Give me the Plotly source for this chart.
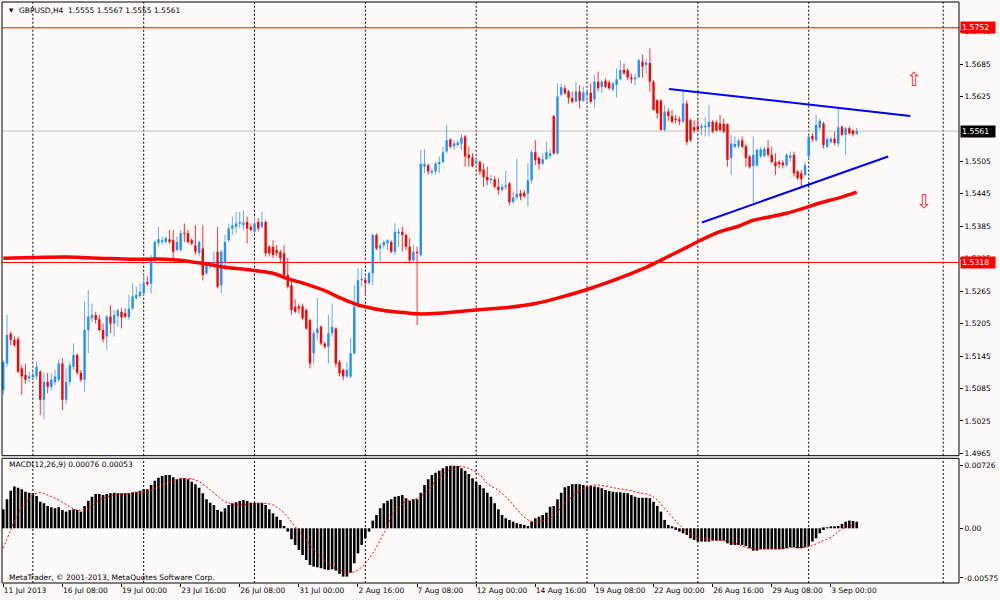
import plotly.graph_objects as go

# ---------------- data (GBPUSD H4) ----------------
OPEN = [1.5082, 1.5131, 1.5186, 1.5175, 1.5176, 1.5122, 1.5110, 1.5104, 1.5106, 1.5107,
        1.5116, 1.5064, 1.5097, 1.5088, 1.5097, 1.5101, 1.5131, 1.5064, 1.5097, 1.5125,
        1.5147, 1.5114, 1.5101, 1.5193, 1.5215, 1.5221, 1.5213, 1.5193, 1.5181, 1.5218,
        1.5205, 1.5219, 1.5227, 1.5224, 1.5216, 1.5233, 1.5252, 1.5256, 1.5261, 1.5282,
        1.5279, 1.5322, 1.5354, 1.5356, 1.5356, 1.5361, 1.5359, 1.5341, 1.5341, 1.5373,
        1.5372, 1.5359, 1.5350, 1.5335, 1.5344, 1.5298, 1.5310, 1.5313, 1.5338, 1.5276,
        1.5319, 1.5359, 1.5381, 1.5384, 1.5390, 1.5387, 1.5393, 1.5384, 1.5375, 1.5393,
        1.5384, 1.5393, 1.5347, 1.5347, 1.5341, 1.5338, 1.5335, 1.5295, 1.5276, 1.5236,
        1.5237, 1.5237, 1.5230, 1.5211, 1.5150, 1.5187, 1.5199, 1.5168, 1.5162, 1.5187,
        1.5196, 1.5134, 1.5119, 1.5107, 1.5107, 1.5150, 1.5236, 1.5285, 1.5286, 1.5280,
        1.5298, 1.5369, 1.5344, 1.5350, 1.5353, 1.5356, 1.5338, 1.5372, 1.5375, 1.5369,
        1.5347, 1.5322, 1.5338, 1.5332, 1.5495, 1.5498, 1.5484, 1.5486, 1.5500, 1.5504,
        1.5523, 1.5546, 1.5533, 1.5535, 1.5538, 1.5551, 1.5517, 1.5512, 1.5501, 1.5504,
        1.5490, 1.5476, 1.5470, 1.5472, 1.5458, 1.5452, 1.5458, 1.5464, 1.5430, 1.5438,
        1.5446, 1.5447, 1.5445, 1.5470, 1.5522, 1.5511, 1.5501, 1.5509, 1.5515, 1.5589,
        1.5520, 1.5628, 1.5640, 1.5634, 1.5622, 1.5615, 1.5634, 1.5617, 1.5629, 1.5632,
        1.5620, 1.5652, 1.5643, 1.5654, 1.5651, 1.5638, 1.5646, 1.5657, 1.5674, 1.5673,
        1.5660, 1.5657, 1.5661, 1.5689, 1.5683, 1.5687, 1.5652, 1.5618, 1.5617, 1.5563,
        1.5597, 1.5589, 1.5584, 1.5583, 1.5578, 1.5612, 1.5581, 1.5568, 1.5570, 1.5567,
        1.5568, 1.5568, 1.5578, 1.5577, 1.5575, 1.5574, 1.5574, 1.5511, 1.5532, 1.5533,
        1.5544, 1.5533, 1.5514, 1.5496, 1.5498, 1.5514, 1.5515, 1.5529, 1.5517, 1.5504,
        1.5504, 1.5503, 1.5498, 1.5511, 1.5517, 1.5486, 1.5483, 1.5480, 1.5514, 1.5552,
        1.5544, 1.5567, 1.5575, 1.5532, 1.5541, 1.5547, 1.5538, 1.5569, 1.5554, 1.5566,
        1.5562, 1.5555]
HIGH = [1.5137, 1.5221, 1.5190, 1.5181, 1.5181, 1.5128, 1.5131, 1.5116, 1.5116, 1.5134,
        1.5119, 1.5114, 1.5114, 1.5113, 1.5119, 1.5138, 1.5141, 1.5122, 1.5134, 1.5168,
        1.5150, 1.5119, 1.5245, 1.5267, 1.5242, 1.5227, 1.5221, 1.5205, 1.5221, 1.5239,
        1.5230, 1.5233, 1.5233, 1.5233, 1.5258, 1.5279, 1.5273, 1.5279, 1.5295, 1.5292,
        1.5332, 1.5359, 1.5384, 1.5366, 1.5366, 1.5378, 1.5378, 1.5366, 1.5378, 1.5390,
        1.5378, 1.5363, 1.5387, 1.5359, 1.5387, 1.5319, 1.5319, 1.5338, 1.5384, 1.5341,
        1.5369, 1.5390, 1.5403, 1.5412, 1.5412, 1.5415, 1.5403, 1.5390, 1.5400, 1.5400,
        1.5412, 1.5396, 1.5350, 1.5359, 1.5350, 1.5341, 1.5350, 1.5326, 1.5285, 1.5250,
        1.5242, 1.5242, 1.5233, 1.5214, 1.5193, 1.5252, 1.5202, 1.5171, 1.5221, 1.5242,
        1.5198, 1.5138, 1.5122, 1.5134, 1.5178, 1.5276, 1.5307, 1.5307, 1.5291, 1.5301,
        1.5372, 1.5372, 1.5353, 1.5359, 1.5361, 1.5359, 1.5390, 1.5381, 1.5384, 1.5372,
        1.5363, 1.5350, 1.5347, 1.5526, 1.5527, 1.5501, 1.5492, 1.5504, 1.5514, 1.5532,
        1.5572, 1.5547, 1.5544, 1.5544, 1.5555, 1.5554, 1.5532, 1.5520, 1.5510, 1.5507,
        1.5501, 1.5495, 1.5480, 1.5477, 1.5474, 1.5463, 1.5487, 1.5467, 1.5449, 1.5510,
        1.5452, 1.5452, 1.5501, 1.5526, 1.5544, 1.5514, 1.5520, 1.5541, 1.5527, 1.5591,
        1.5649, 1.5649, 1.5646, 1.5637, 1.5634, 1.5652, 1.5646, 1.5643, 1.5637, 1.5649,
        1.5665, 1.5671, 1.5655, 1.5658, 1.5655, 1.5652, 1.5677, 1.5692, 1.5686, 1.5677,
        1.5667, 1.5667, 1.5695, 1.5702, 1.5695, 1.5714, 1.5655, 1.5620, 1.5620, 1.5609,
        1.5603, 1.5600, 1.5591, 1.5588, 1.5637, 1.5618, 1.5584, 1.5581, 1.5584, 1.5575,
        1.5587, 1.5609, 1.5581, 1.5581, 1.5591, 1.5584, 1.5575, 1.5554, 1.5551, 1.5547,
        1.5551, 1.5538, 1.5517, 1.5551, 1.5529, 1.5532, 1.5532, 1.5544, 1.5532, 1.5520,
        1.5507, 1.5507, 1.5520, 1.5523, 1.5523, 1.5489, 1.5489, 1.5504, 1.5554, 1.5557,
        1.5591, 1.5584, 1.5578, 1.5551, 1.5551, 1.5560, 1.5603, 1.5572, 1.5569, 1.5569,
        1.5564, 1.5567]
LOW = [1.5073, 1.5125, 1.5165, 1.5162, 1.5113, 1.5073, 1.5094, 1.5097, 1.5101, 1.5101,
       1.5036, 1.5028, 1.5076, 1.5082, 1.5091, 1.5097, 1.5045, 1.5057, 1.5091, 1.5119,
       1.5110, 1.5097, 1.5079, 1.5150, 1.5208, 1.5205, 1.5190, 1.5170, 1.5156, 1.5187,
       1.5181, 1.5199, 1.5196, 1.5215, 1.5212, 1.5230, 1.5249, 1.5252, 1.5258, 1.5274,
       1.5261, 1.5316, 1.5347, 1.5350, 1.5353, 1.5353, 1.5322, 1.5338, 1.5338, 1.5356,
       1.5353, 1.5350, 1.5332, 1.5329, 1.5285, 1.5295, 1.5307, 1.5310, 1.5270, 1.5261,
       1.5304, 1.5356, 1.5369, 1.5372, 1.5381, 1.5378, 1.5353, 1.5375, 1.5372, 1.5375,
       1.5381, 1.5329, 1.5329, 1.5326, 1.5329, 1.5316, 1.5292, 1.5270, 1.5221, 1.5224,
       1.5224, 1.5211, 1.5193, 1.5122, 1.5131, 1.5174, 1.5165, 1.5159, 1.5131, 1.5181,
       1.5125, 1.5107, 1.5100, 1.5104, 1.5104, 1.5147, 1.5233, 1.5273, 1.5258, 1.5276,
       1.5276, 1.5341, 1.5316, 1.5344, 1.5341, 1.5335, 1.5332, 1.5347, 1.5338, 1.5341,
       1.5316, 1.5316, 1.5202, 1.5329, 1.5483, 1.5480, 1.5480, 1.5480, 1.5483, 1.5501,
       1.5520, 1.5529, 1.5526, 1.5532, 1.5526, 1.5495, 1.5495, 1.5494, 1.5495, 1.5480,
       1.5458, 1.5461, 1.5463, 1.5455, 1.5443, 1.5449, 1.5452, 1.5424, 1.5426, 1.5433,
       1.5433, 1.5437, 1.5421, 1.5464, 1.5498, 1.5490, 1.5498, 1.5507, 1.5510, 1.5517,
       1.5517, 1.5625, 1.5628, 1.5612, 1.5612, 1.5615, 1.5603, 1.5615, 1.5612, 1.5612,
       1.5603, 1.5634, 1.5631, 1.5640, 1.5637, 1.5634, 1.5623, 1.5655, 1.5665, 1.5655,
       1.5649, 1.5646, 1.5658, 1.5660, 1.5668, 1.5634, 1.5599, 1.5584, 1.5562, 1.5560,
       1.5580, 1.5575, 1.5575, 1.5572, 1.5575, 1.5535, 1.5541, 1.5557, 1.5560, 1.5553,
       1.5551, 1.5551, 1.5557, 1.5560, 1.5560, 1.5557, 1.5495, 1.5480, 1.5529, 1.5529,
       1.5529, 1.5495, 1.5492, 1.5428, 1.5495, 1.5511, 1.5512, 1.5513, 1.5501, 1.5480,
       1.5492, 1.5492, 1.5495, 1.5504, 1.5477, 1.5470, 1.5458, 1.5477, 1.5510, 1.5541,
       1.5541, 1.5563, 1.5529, 1.5529, 1.5538, 1.5535, 1.5532, 1.5551, 1.5517, 1.5554,
       1.5551, 1.5555]
CLOSE = [1.5134, 1.5184, 1.5175, 1.5165, 1.5116, 1.5107, 1.5101, 1.5107, 1.5110, 1.5125,
         1.5064, 1.5097, 1.5088, 1.5101, 1.5107, 1.5131, 1.5064, 1.5097, 1.5128, 1.5147,
         1.5114, 1.5101, 1.5193, 1.5218, 1.5221, 1.5212, 1.5193, 1.5176, 1.5218, 1.5205,
         1.5221, 1.5229, 1.5216, 1.5218, 1.5233, 1.5255, 1.5258, 1.5264, 1.5279, 1.5278,
         1.5322, 1.5356, 1.5361, 1.5359, 1.5363, 1.5356, 1.5338, 1.5356, 1.5372, 1.5371,
         1.5356, 1.5353, 1.5338, 1.5356, 1.5295, 1.5313, 1.5316, 1.5319, 1.5273, 1.5338,
         1.5356, 1.5381, 1.5387, 1.5390, 1.5393, 1.5392, 1.5381, 1.5378, 1.5390, 1.5381,
         1.5393, 1.5335, 1.5335, 1.5332, 1.5335, 1.5326, 1.5295, 1.5273, 1.5230, 1.5227,
         1.5233, 1.5215, 1.5196, 1.5131, 1.5187, 1.5196, 1.5168, 1.5162, 1.5187, 1.5199,
         1.5131, 1.5113, 1.5107, 1.5119, 1.5150, 1.5236, 1.5285, 1.5288, 1.5280, 1.5298,
         1.5369, 1.5344, 1.5350, 1.5356, 1.5359, 1.5338, 1.5375, 1.5375, 1.5369, 1.5347,
         1.5322, 1.5338, 1.5335, 1.5500, 1.5500, 1.5486, 1.5487, 1.5501, 1.5504, 1.5522,
         1.5544, 1.5532, 1.5538, 1.5540, 1.5549, 1.5514, 1.5511, 1.5496, 1.5506, 1.5486,
         1.5476, 1.5470, 1.5473, 1.5458, 1.5452, 1.5458, 1.5461, 1.5430, 1.5438, 1.5445,
         1.5440, 1.5441, 1.5470, 1.5522, 1.5507, 1.5500, 1.5509, 1.5522, 1.5520, 1.5520,
         1.5625, 1.5642, 1.5631, 1.5622, 1.5615, 1.5634, 1.5617, 1.5633, 1.5633, 1.5615,
         1.5652, 1.5640, 1.5652, 1.5643, 1.5640, 1.5649, 1.5657, 1.5674, 1.5668, 1.5660,
         1.5657, 1.5660, 1.5692, 1.5680, 1.5688, 1.5652, 1.5600, 1.5594, 1.5563, 1.5597,
         1.5589, 1.5578, 1.5581, 1.5579, 1.5612, 1.5541, 1.5544, 1.5562, 1.5564, 1.5571,
         1.5571, 1.5578, 1.5560, 1.5562, 1.5563, 1.5560, 1.5508, 1.5538, 1.5537, 1.5543,
         1.5532, 1.5511, 1.5495, 1.5517, 1.5526, 1.5527, 1.5528, 1.5517, 1.5504, 1.5496,
         1.5500, 1.5498, 1.5517, 1.5516, 1.5483, 1.5474, 1.5472, 1.5498, 1.5551, 1.5546,
         1.5572, 1.5580, 1.5535, 1.5546, 1.5547, 1.5539, 1.5568, 1.5554, 1.5566, 1.5557,
         1.5555, 1.5561]

MA_BARS = [0, 8, 17, 26, 35, 44, 48, 51, 55, 60, 67, 73, 77, 82, 87, 91, 95, 98, 103, 109,
           112, 118, 128, 137, 144, 150, 158, 164, 169, 174, 180, 185, 189, 194, 199, 203,
           208, 212, 217, 221, 226, 231]
MA_VALS = [1.5326, 1.5327, 1.5328, 1.5326, 1.5324, 1.5324, 1.5322, 1.5319, 1.5315, 1.5309,
           1.5304, 1.5298, 1.5288, 1.5278, 1.5266, 1.5253, 1.5242, 1.5236, 1.5229, 1.5225,
           1.5223, 1.5224, 1.5230, 1.5235, 1.5242, 1.5252, 1.5268, 1.5282, 1.5295, 1.5309,
           1.5329, 1.5346, 1.5360, 1.5375, 1.5385, 1.5396, 1.5403, 1.5409, 1.5419, 1.5428,
           1.5437, 1.5448]

MACD_MAIN = [0.00220, 0.00336, 0.00436, 0.00483, 0.00471, 0.00452, 0.00425, 0.00413, 0.00405, 0.00374,
             0.00309, 0.00290, 0.00259, 0.00243, 0.00232, 0.00243, 0.00212, 0.00193, 0.00212, 0.00220,
             0.00212, 0.00193, 0.00259, 0.00320, 0.00367, 0.00398, 0.00398, 0.00386, 0.00398, 0.00405,
             0.00413, 0.00405, 0.00405, 0.00405, 0.00405, 0.00417, 0.00425, 0.00436, 0.00452, 0.00452,
             0.00502, 0.00552, 0.00587, 0.00606, 0.00618, 0.00618, 0.00591, 0.00567, 0.00579, 0.00579,
             0.00567, 0.00540, 0.00510, 0.00471, 0.00405, 0.00336, 0.00297, 0.00270, 0.00212, 0.00193,
             0.00232, 0.00270, 0.00290, 0.00301, 0.00317, 0.00328, 0.00317, 0.00297, 0.00297, 0.00297,
             0.00297, 0.00270, 0.00220, 0.00174, 0.00135, 0.00097, 0.00027, -0.00039, -0.00127, -0.00193,
             -0.00251, -0.00309, -0.00367, -0.00425, -0.00444, -0.00452, -0.00463, -0.00475, -0.00483, -0.00475,
             -0.00490, -0.00529, -0.00560, -0.00560, -0.00513, -0.00405, -0.00290, -0.00193, -0.00116, -0.00039,
             0.00089, 0.00154, 0.00232, 0.00290, 0.00320, 0.00336, 0.00367, 0.00374, 0.00386, 0.00347,
             0.00320, 0.00336, 0.00336, 0.00413, 0.00502, 0.00567, 0.00618, 0.00645, 0.00668, 0.00695,
             0.00720, 0.00726, 0.00726, 0.00722, 0.00695, 0.00668, 0.00629, 0.00579, 0.00540, 0.00502,
             0.00463, 0.00413, 0.00367, 0.00290, 0.00220, 0.00154, 0.00116, 0.00097, 0.00077, 0.00058,
             0.00050, 0.00039, 0.00027, 0.00077, 0.00116, 0.00135, 0.00154, 0.00181, 0.00251, 0.00259,
             0.00336, 0.00413, 0.00475, 0.00490, 0.00510, 0.00513, 0.00510, 0.00502, 0.00483, 0.00490,
             0.00483, 0.00475, 0.00463, 0.00444, 0.00432, 0.00425, 0.00417, 0.00417, 0.00413, 0.00405,
             0.00386, 0.00367, 0.00355, 0.00355, 0.00355, 0.00347, 0.00309, 0.00259, 0.00193, 0.00097,
             0.00039, 0.00012, -0.00019, -0.00039, -0.00058, -0.00077, -0.00116, -0.00135, -0.00154, -0.00154,
             -0.00154, -0.00154, -0.00143, -0.00143, -0.00143, -0.00143, -0.00174, -0.00193, -0.00193, -0.00193,
             -0.00193, -0.00205, -0.00232, -0.00259, -0.00259, -0.00243, -0.00243, -0.00243, -0.00243, -0.00243,
             -0.00243, -0.00243, -0.00232, -0.00220, -0.00220, -0.00232, -0.00232, -0.00220, -0.00205, -0.00154,
             -0.00116, -0.00058, -0.00019, 0.00004, 0.00012, 0.00019, 0.00027, 0.00050, 0.00077, 0.00089,
             0.00085, 0.00076]

SIGNAL_BARS = [0, 2, 4, 6, 8, 10, 12, 15, 18, 20, 23, 26, 30, 35, 40, 44, 47, 50, 53, 56,
               60, 63, 67, 70, 73, 76, 79, 82, 85, 88, 91, 94, 96, 98, 100, 103, 106, 109, 112, 115,
               118, 121, 123, 126, 129, 131, 134, 136, 138, 140, 142, 144, 146, 148, 150, 152, 154, 156, 158, 160,
               163, 166, 169, 172, 175, 177, 179, 181, 183, 185, 187, 189, 192, 195, 198, 201, 204, 207, 210, 213,
               216, 218, 220, 222, 224, 226, 228, 230, 231]
SIGNAL_VALS = [-0.00232, -0.00019, 0.00174, 0.00290, 0.00386, 0.00413, 0.00386, 0.00328, 0.00251, 0.00212,
               0.00232, 0.00328, 0.00386, 0.00405, 0.00444, 0.00521, 0.00560, 0.00579, 0.00540, 0.00444,
               0.00309, 0.00270, 0.00282, 0.00290, 0.00270, 0.00174, 0.00019, -0.00135, -0.00290, -0.00405,
               -0.00483, -0.00513, -0.00483, -0.00405, -0.00290, -0.00058, 0.00193, 0.00309, 0.00347, 0.00444,
               0.00598, 0.00683, 0.00714, 0.00695, 0.00618, 0.00521, 0.00440, 0.00367, 0.00270, 0.00174,
               0.00097, 0.00077, 0.00089, 0.00116, 0.00193, 0.00290, 0.00367, 0.00436, 0.00483, 0.00502,
               0.00490, 0.00463, 0.00444, 0.00413, 0.00386, 0.00328, 0.00232, 0.00135, 0.00039, -0.00039,
               -0.00089, -0.00116, -0.00135, -0.00143, -0.00174, -0.00220, -0.00239, -0.00239, -0.00239, -0.00224,
               -0.00224, -0.00212, -0.00181, -0.00143, -0.00104, -0.00039, 0.00012, 0.00039, 0.00053]

X_TICK_BARS = [0, 16, 32, 48, 64, 80, 96, 112, 128, 144, 160, 176, 192, 208, 224]
X_TICK_LABELS = ["11 Jul 2013", "16 Jul 08:00", "19 Jul 00:00", "23 Jul 16:00", "26 Jul 08:00",
                 "31 Jul 00:00", "2 Aug 16:00", "7 Aug 08:00", "12 Aug 00:00", "14 Aug 16:00",
                 "19 Aug 08:00", "22 Aug 00:00", "26 Aug 16:00", "29 Aug 08:00", "3 Sep 00:00"]
PRICE_TICKS = [1.4965, 1.5025, 1.5085, 1.5145, 1.5205, 1.5265, 1.5325, 1.5385, 1.5445,
               1.5505, 1.5625, 1.5685, 1.5745]
MACD_TICKS = [0.00726, 0.0, -0.00575]
MACD_TICK_LABELS = ["0.00726", "0.00", "-0.00575"]
GRID_BARS = [8, 38, 68, 98, 128, 158, 188, 218, 254.4]
RED_LEVELS = [1.5752, 1.5318]
BID = 1.5561
TREND_UP_BARS = [180.2, 245.5]
TREND_UP_VALS = [1.5639, 1.5589]
TREND_LO_BARS = [189.1, 239.5]
TREND_LO_VALS = [1.5392, 1.5514]
ARROW_UP = (246.4, 1.5658)
ARROW_DOWN = (249.1, 1.5432)

# ---------------- styling ----------------
F = "DejaVu Sans"
BG = "#FFFAFA"
BULL, BEAR = "#1E90FF", "#FF0000"
BULL_WICK, BEAR_WICK = "#5DAAF5", "#FF3030"
MAIN_DOM = [0.2191, 1.0]
MACD_DOM = [0.0, 0.2146]
MINB = 0.00015

fig = go.Figure()

wick = {True: ([], []), False: ([], [])}
body = {True: ([], []), False: ([], [])}
for i in range(len(OPEN)):
    o, h, l, c = OPEN[i], HIGH[i], LOW[i], CLOSE[i]
    up = c >= o
    wx, wy = wick[up]
    wx += [i, i, None]
    wy += [l, h, None]
    top, bot = max(o, c), min(o, c)
    if top - bot < MINB:
        mid = (top + bot) / 2
        top, bot = mid + MINB / 2, mid - MINB / 2
    bx, by = body[up]
    bx += [i, i, None]
    by += [bot, top, None]

for up, col in ((True, BULL_WICK), (False, BEAR_WICK)):
    fig.add_trace(go.Scatter(x=wick[up][0], y=wick[up][1], mode="lines",
                             line=dict(color=col, width=1), xaxis="x", yaxis="y",
                             hoverinfo="skip", connectgaps=False))
for up, col in ((True, BULL), (False, BEAR)):
    fig.add_trace(go.Scatter(x=body[up][0], y=body[up][1], mode="lines",
                             line=dict(color=col, width=2.4), xaxis="x", yaxis="y",
                             hoverinfo="skip", connectgaps=False))

fig.add_trace(go.Scatter(x=MA_BARS, y=MA_VALS, mode="lines", line=dict(color="#FF0000", width=3.5),
                         line_shape="spline", xaxis="x", yaxis="y", hoverinfo="skip"))
fig.add_trace(go.Scatter(x=TREND_UP_BARS, y=TREND_UP_VALS, mode="lines",
                         line=dict(color="#0000FF", width=2), xaxis="x", yaxis="y"))
fig.add_trace(go.Scatter(x=TREND_LO_BARS, y=TREND_LO_VALS, mode="lines",
                         line=dict(color="#0000FF", width=2), xaxis="x", yaxis="y"))

fig.add_trace(go.Bar(x=list(range(len(MACD_MAIN))), y=MACD_MAIN, width=0.7,
                     marker=dict(color="#000000", line=dict(width=0)), xaxis="x", yaxis="y2"))
fig.add_trace(go.Scatter(x=SIGNAL_BARS, y=SIGNAL_VALS, mode="lines", line_shape="spline",
                         line=dict(color="#FF0000", width=1, dash="2px,2px"), xaxis="x", yaxis="y2"))

shapes = []
for b in GRID_BARS:
    for dom in (MAIN_DOM, MACD_DOM):
        shapes.append(dict(type="line", xref="x", yref="paper", x0=b, x1=b, y0=dom[0], y1=dom[1],
                           line=dict(color="#000000", width=1, dash="2px,2px"), layer="below"))
for lv in RED_LEVELS:
    shapes.append(dict(type="line", xref="paper", yref="y", x0=0, x1=1, y0=lv, y1=lv,
                       line=dict(color="#FF0000", width=1), layer="below"))
shapes.append(dict(type="line", xref="paper", yref="y", x0=0, x1=1, y0=BID, y1=BID,
                   line=dict(color="#C0C0C0", width=1), layer="below"))
for dom in (MAIN_DOM, MACD_DOM):
    shapes.append(dict(type="rect", xref="paper", yref="paper", x0=0, x1=1, y0=dom[0], y1=dom[1],
                       line=dict(color="#000000", width=1), fillcolor="rgba(0,0,0,0)", layer="above"))

txt = dict(family=F, size=7.5, color="#000000")
ann = [
    dict(xref="paper", yref="paper", x=0.0052, y=0.9862, xanchor="left", yanchor="middle",
         text="▼", showarrow=False, font=dict(family=F, size=5.5, color="#000000")),
    dict(xref="paper", yref="paper", x=0.0156, y=0.9862, xanchor="left", yanchor="middle",
         text="GBPUSD,H4  1.5555 1.5567 1.5555 1.5561", showarrow=False, font=txt),
    dict(xref="paper", yref="paper", x=0.0052, y=0.2031, xanchor="left", yanchor="middle",
         text="MACD(12,26,9) 0.00076 0.00053", showarrow=False, font=txt),
    dict(xref="paper", yref="paper", x=0.0052, y=0.0103, xanchor="left", yanchor="middle",
         text="MetaTrader, © 2001-2013, MetaQuotes Software Corp.", showarrow=False, font=txt),
    dict(xref="x", yref="y", x=ARROW_UP[0], y=ARROW_UP[1], text="⇧", showarrow=False,
         font=dict(family=F, size=19, color="#FF3030")),
    dict(xref="x", yref="y", x=ARROW_DOWN[0], y=ARROW_DOWN[1], text="⇩", showarrow=False,
         font=dict(family=F, size=19, color="#FF3030")),
]
for lv, bg in ((RED_LEVELS[0], "#FF0000"), (RED_LEVELS[1], "#FF0000"), (BID, "#000000")):
    ann.append(dict(xref="paper", yref="y", x=1, y=lv, xanchor="left", yanchor="middle", xshift=1,
                    text=f"{lv:.4f}", showarrow=False, bgcolor=bg, borderpad=1, width=32, height=9,
                    align="left", font=dict(family=F, size=7.8, color="#FFFFFF")))

fig.update_layout(
    width=1000, height=600,
    margin=dict(l=2, r=37, t=2, b=17, pad=0),
    paper_bgcolor=BG, plot_bgcolor=BG,
    showlegend=False, barmode="overlay",
    shapes=shapes, annotations=ann,
    xaxis=dict(domain=[0, 1], range=[-0.35, 258.68], anchor="y2",
               tickvals=X_TICK_BARS, ticktext=X_TICK_LABELS, ticks="outside", ticklen=3,
               tickcolor="#000000", ticklabelposition="outside right", tickfont=txt, tickangle=0,
               showgrid=False, zeroline=False, showline=False, fixedrange=True),
    yaxis=dict(domain=MAIN_DOM, range=[1.49606, 1.57997], side="right", anchor="x",
               tickvals=PRICE_TICKS, ticktext=[f"{v:.4f}" for v in PRICE_TICKS],
               ticks="outside", ticklen=3, tickcolor="#000000", tickfont=txt,
               showgrid=False, zeroline=False, showline=False, fixedrange=True),
    yaxis2=dict(domain=MACD_DOM, range=[-0.00634, 0.00811], side="right", anchor="x",
                tickvals=MACD_TICKS, ticktext=MACD_TICK_LABELS,
                ticks="outside", ticklen=3, tickcolor="#000000", tickfont=txt,
                showgrid=False, zeroline=False, showline=False, fixedrange=True),
)

fig.write_html("out.html", config={"displayModeBar": False},
               post_script="document.body.style.margin='0';document.body.style.overflow='hidden';")
